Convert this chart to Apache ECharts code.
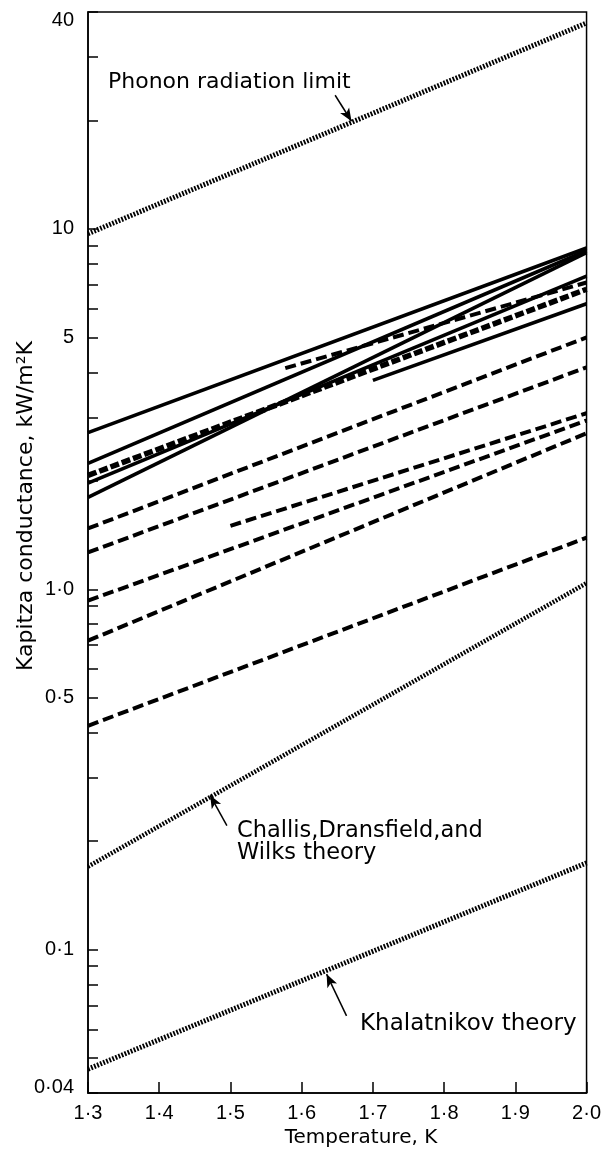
<!DOCTYPE html>
<html>
<head>
<meta charset="utf-8">
<script src="https://cdn.jsdelivr.net/npm/echarts@6.0.0/dist/echarts.min.js"></script>
<style>
html,body{margin:0;padding:0;background:#fff;}
#chart{width:604px;height:1151px;}
</style>
</head>
<body>
<div id="chart"></div>
<script>
// ---- tick values / labels ----
const xTickValues = [1.3, 1.4, 1.5, 1.6, 1.7, 1.8, 1.9, 2.0];
const xTickLabels = ['1·3', '1·4', '1·5', '1·6', '1·7', '1·8', '1·9', '2·0'];
const yTickValues = [0.04, 0.1, 0.5, 1, 5, 10, 40];
const yTickLabels = ['0·04', '0·1', '0·5', '1·0', '5', '10', '40'];
const yMinorTickValues = [0.05, 0.06, 0.07, 0.08, 0.09, 0.2, 0.3, 0.4, 0.6, 0.7, 0.8, 0.9, 2, 3, 4, 6, 7, 8, 9, 20, 30];

// ---- theory curves (T [K], G [kW/m^2K]) ----
const phononLimit = [[1.3, 9.7], [2.0, 37.3]];
const cdwTheory = [[1.3, 0.17], [2.0, 1.04]];
const khalatnikovTheory = [[1.3, 0.0466], [2.0, 0.174]];

// ---- experimental lines: solid ----
const solid1 = [[1.3, 2.72], [2.0, 8.85]];
const solid2 = [[1.3, 2.235], [2.0, 8.7]];
const solid3 = [[1.3, 1.97], [2.0, 7.4]];
const solid4 = [[1.3, 1.80], [2.0, 8.6]];
const solid5 = [[1.7, 3.80], [2.0, 6.2]];

// ---- experimental lines: dashed ----
const heavyDashed = [[1.3, 2.07], [2.0, 6.8]];
const dashed1 = [[1.577, 4.11], [2.0, 7.1]];
const dashed2 = [[1.3, 1.475], [2.0, 5.0]];
const dashed3 = [[1.3, 1.265], [2.0, 4.13]];
const dashed4 = [[1.5, 1.50], [2.0, 3.08]];
const dashed5 = [[1.3, 0.93], [2.0, 2.94]];
const dashed6 = [[1.3, 0.72], [2.0, 2.71]];
const dashed7 = [[1.3, 0.418], [2.0, 1.39]];

// ---- annotation arrows (tail, tip) in data units ----
const phononArrow = [[1.647, 23.5], [1.67, 19.9]];
const cdwArrow = [[1.495, 0.221], [1.4715, 0.268]];
const khalArrow = [[1.663, 0.0655], [1.635, 0.0855]];

const BLACK = '#000';
const allYTicks = yTickValues.concat(yMinorTickValues);

function arrowMark(pair) {
  return {
    silent: true,
    symbol: ['none', 'arrow'],
    symbolSize: [8, 13],
    label: {show: false},
    lineStyle: {type: 'solid', width: 1.5, color: BLACK},
    data: [[{coord: pair[0]}, {coord: pair[1]}]]
  };
}

function lineSeries(name, data, width, dash, extra) {
  const s = {
    name: name,
    type: 'line',
    data: data,
    showSymbol: false,
    symbol: 'none',
    silent: true,
    clip: true,
    lineStyle: {color: BLACK, width: width, type: dash, cap: 'butt'},
    z: 3
  };
  return Object.assign(s, extra || {});
}

const DOT = [1.8, 1.5];
const DASH = [11, 5];
const HEAVY = [9, 3];

const series = [
  lineSeries('Phonon radiation limit', phononLimit, 5, DOT, {markLine: arrowMark(phononArrow)}),
  lineSeries('Challis, Dransfield, and Wilks theory', cdwTheory, 4.5, DOT, {markLine: arrowMark(cdwArrow)}),
  lineSeries('Khalatnikov theory', khalatnikovTheory, 5, DOT, {markLine: arrowMark(khalArrow)}),
  lineSeries('s1', solid1, 3.6, 'solid'),
  lineSeries('s2', solid2, 3.6, 'solid'),
  lineSeries('s3', solid3, 3.6, 'solid'),
  lineSeries('s4', solid4, 3.6, 'solid'),
  lineSeries('s5', solid5, 3.6, 'solid'),
  lineSeries('hd', heavyDashed, 5.5, HEAVY),
  lineSeries('d1', dashed1, 4, DASH),
  lineSeries('d2', dashed2, 4, DASH),
  lineSeries('d3', dashed3, 4, DASH),
  lineSeries('d4', dashed4, 4, DASH),
  lineSeries('d5', dashed5, 4, DASH),
  lineSeries('d6', dashed6, 4, DASH),
  lineSeries('d7', dashed7, 4, DASH)
];

function xLabel(v) {
  const i = xTickValues.findIndex(t => Math.abs(t - v) < 1e-6);
  return i >= 0 ? xTickLabels[i] : '';
}
function yLabel(v) {
  const i = yTickValues.findIndex(t => Math.abs(t - v) / t < 1e-6);
  if (i < 0) return '';
  const txt = yTickLabels[i];
  if (i === yTickValues.length - 1) return '{top|' + txt + '}';
  if (i === 0) return '{bot|' + txt + '}';
  return txt;
}

const labelFont = 'Liberation Sans';
const textFont = '"DejaVu Sans"';

const chart = echarts.init(document.getElementById('chart'), null, {renderer: 'canvas'});
chart.setOption({
  animation: false,
  backgroundColor: '#fff',
  grid: {left: 88, top: 12, width: 509, height: 1081, show: true, borderColor: BLACK, borderWidth: 1.5, backgroundColor: 'transparent'},
  xAxis: {
    type: 'value',
    min: 1.3,
    max: 2.0,
    axisLine: {show: true, lineStyle: {color: BLACK, width: 1.5}},
    axisTick: {show: true, inside: true, length: 11, customValues: xTickValues, lineStyle: {color: BLACK, width: 1.5}},
    axisLabel: {show: true, customValues: xTickValues, formatter: xLabel, margin: 10, color: BLACK, fontSize: 20, fontFamily: labelFont},
    splitLine: {show: false}
  },
  yAxis: {
    type: 'log',
    logBase: 10,
    min: 0.04,
    max: 40,
    axisLine: {show: true, lineStyle: {color: BLACK, width: 1.5}},
    axisTick: {show: true, inside: true, length: 10, customValues: allYTicks, lineStyle: {color: BLACK, width: 1.5}},
    axisLabel: {
      show: true, customValues: yTickValues, formatter: yLabel, margin: 14, color: BLACK,
      fontSize: 20, fontFamily: labelFont,
      rich: {
        top: {fontSize: 20, fontFamily: labelFont, color: BLACK, padding: [16, 0, 0, 0]},
        bot: {fontSize: 20, fontFamily: labelFont, color: BLACK, padding: [0, 0, 12, 0]}
      }
    },
    splitLine: {show: false}
  },
  graphic: [
    {type: 'text', x: 108, y: 82, silent: true, style: {text: 'Phonon radiation limit', font: '22px ' + textFont, fill: BLACK, align: 'left', verticalAlign: 'middle'}},
    {type: 'text', x: 237, y: 831, silent: true, style: {text: 'Challis,Dransfield,and', font: '22.5px ' + textFont, fill: BLACK, align: 'left', verticalAlign: 'middle'}},
    {type: 'text', x: 237, y: 853, silent: true, style: {text: 'Wilks theory', font: '22.5px ' + textFont, fill: BLACK, align: 'left', verticalAlign: 'middle'}},
    {type: 'text', x: 360, y: 1024, silent: true, style: {text: 'Khalatnikov theory', font: '23px ' + textFont, fill: BLACK, align: 'left', verticalAlign: 'middle'}},
    {type: 'text', x: 361, y: 1138, silent: true, style: {text: 'Temperature, K', font: '20px ' + textFont, fill: BLACK, align: 'center', verticalAlign: 'middle'}},
    {type: 'text', x: 26, y: 506, rotation: Math.PI / 2, silent: true, style: {text: 'Kapitza conductance, kW/m²K', font: '22px ' + textFont, fill: BLACK, align: 'center', verticalAlign: 'middle'}}
  ],
  series: series
});
</script>
</body>
</html>
